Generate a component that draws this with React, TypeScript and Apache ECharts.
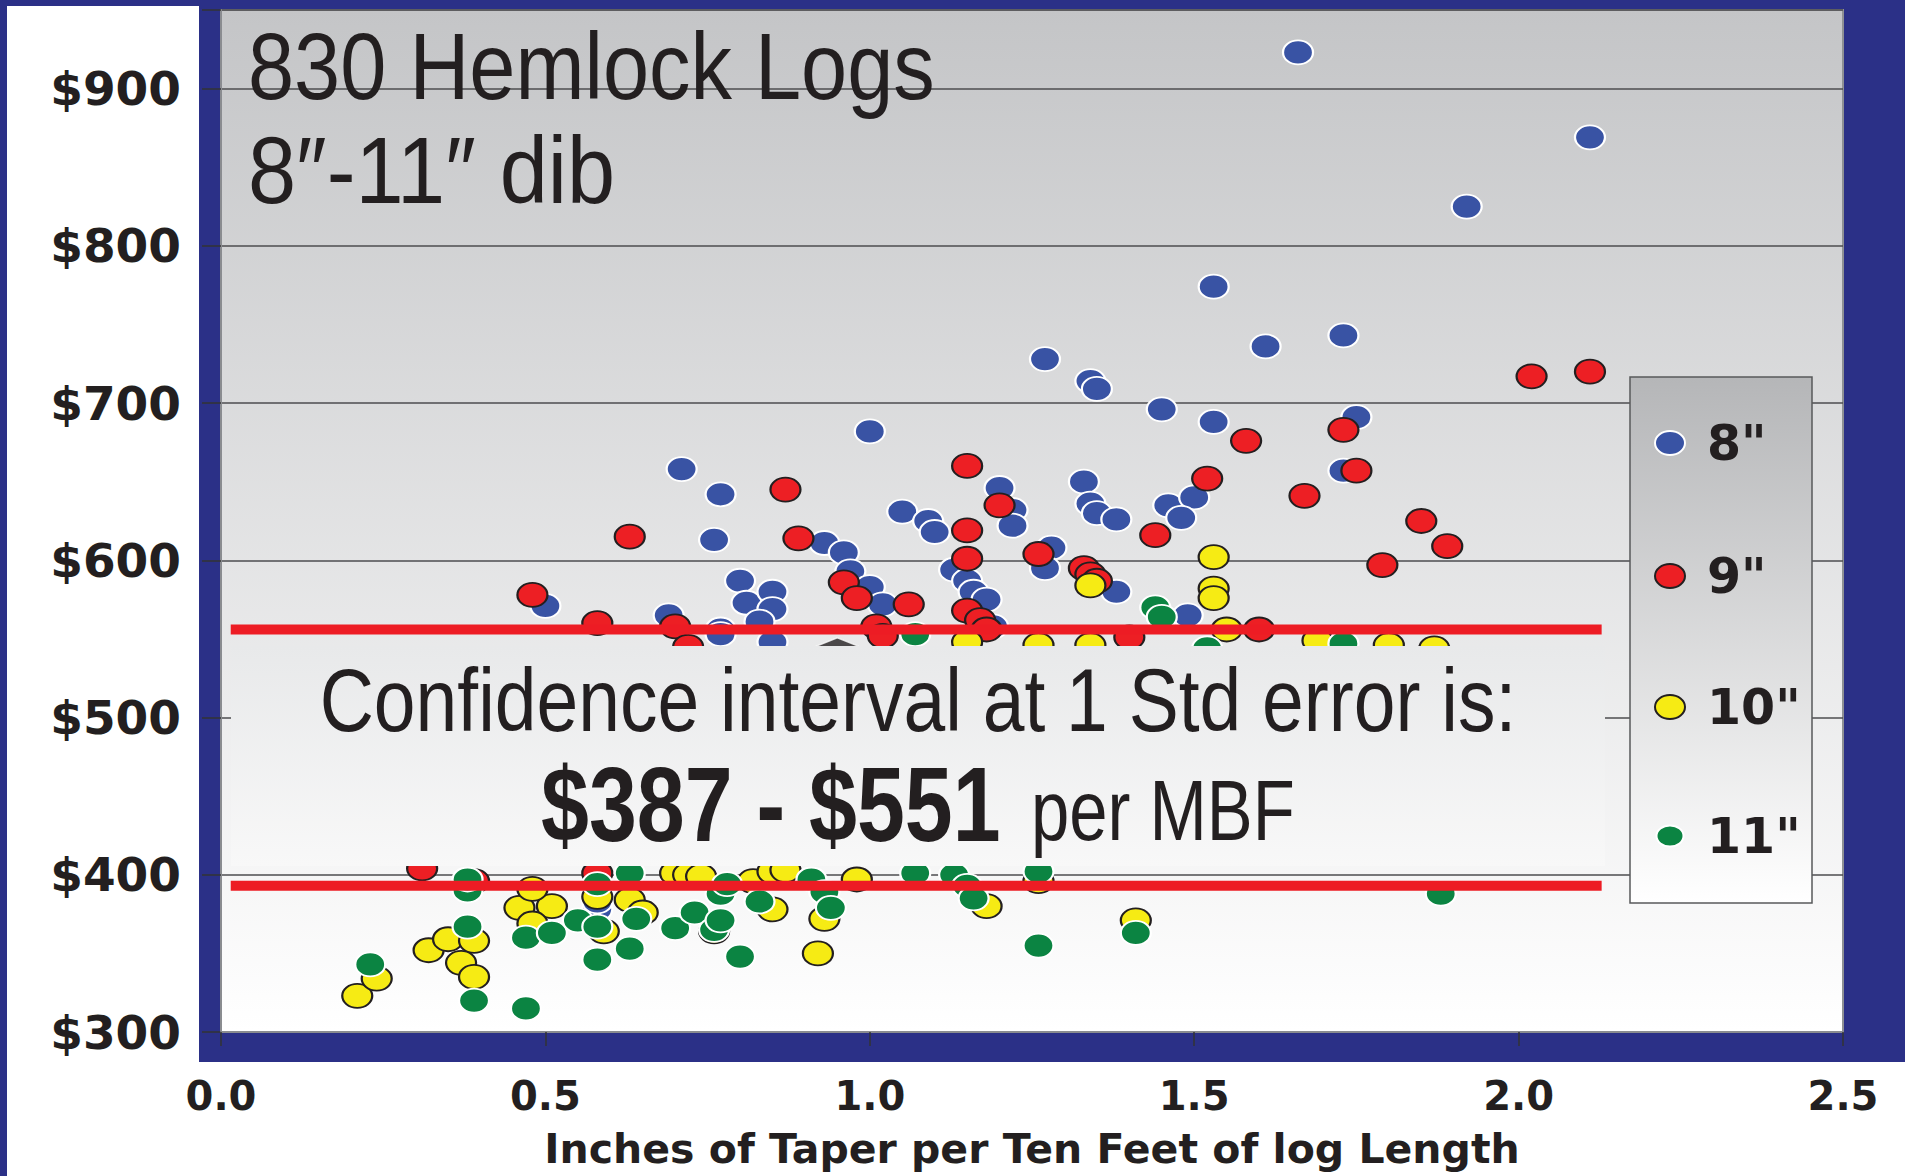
import { useEffect, useRef } from "react";
import * as echarts from "echarts";

// ---------- data ----------
const seriesNames = ['8"', '9"', '10"', '11"'];
const seriesColors = ["#3953A4", "#ED1F24", "#F6EB14", "#0B8442"];
const seriesBorders = ["#FFFFFF", "#231F20", "#231F20", "#FFFFFF"];

const dib8: number[][] = [
  [1.66, 923], [2.11, 869], [1.92, 825], [1.53, 774], [1.73, 743], [1.61, 736], [1.27, 728],
  [1.34, 714], [1.35, 709], [1.45, 696], [1.53, 688], [1.75, 691], [1.73, 657], [1.0, 682],
  [0.71, 658], [0.77, 642], [0.76, 613], [1.2, 646], [1.22, 632], [1.22, 622], [1.05, 631],
  [1.09, 625], [1.1, 618], [1.33, 650], [1.34, 636], [1.35, 630], [1.38, 626], [1.46, 635],
  [1.5, 640], [1.48, 627], [0.93, 611], [0.96, 605], [0.97, 593], [1.0, 583], [1.02, 572],
  [0.8, 587], [0.81, 573], [0.85, 580], [0.85, 569], [0.83, 561], [0.77, 556], [0.77, 553],
  [0.85, 548], [1.13, 594], [1.15, 587], [1.16, 580], [1.18, 575], [1.19, 558], [1.28, 608],
  [1.27, 595], [1.38, 580], [1.49, 565], [0.5, 571], [0.69, 565], [0.58, 378], [0.58, 383],
];

const dib9: number[][] = [
  [2.02, 717], [2.11, 720], [1.58, 676], [1.73, 683], [1.75, 657], [1.67, 641], [1.52, 652],
  [1.44, 616], [1.85, 625], [1.89, 609], [1.79, 597], [1.6, 556], [1.4, 551], [0.87, 645],
  [1.15, 660], [1.2, 635], [1.15, 619], [1.15, 601], [0.89, 614], [1.26, 604], [1.33, 595],
  [1.34, 591], [1.35, 587], [0.96, 586], [0.98, 576], [1.06, 572], [1.15, 568], [1.17, 562],
  [1.18, 556], [1.01, 558], [1.02, 552], [0.63, 615], [0.48, 578], [0.58, 560], [0.7, 558],
  [0.72, 545], [0.31, 404], [0.39, 396], [0.58, 401],
];

const dib10: number[][] = [
  [1.53, 602], [1.53, 582], [1.53, 576], [1.34, 584], [1.55, 556], [1.69, 549], [1.8, 546],
  [1.87, 544], [1.15, 548], [1.26, 546], [1.34, 546],
  [0.21, 323], [0.24, 334], [0.32, 352], [0.35, 359], [0.39, 358], [0.37, 344], [0.39, 335],
  [0.46, 379], [0.51, 380], [0.48, 391], [0.48, 369], [0.58, 386], [0.59, 364], [0.63, 384],
  [0.65, 376], [0.7, 401], [0.72, 400], [0.74, 399], [0.76, 364], [0.82, 396], [0.85, 378],
  [0.85, 402], [0.87, 403], [0.92, 350], [0.93, 372], [0.98, 397], [1.18, 380], [1.26, 396],
  [1.41, 371],
];

const dib11: number[][] = [
  [1.44, 570], [1.45, 564], [1.07, 553], [1.73, 547], [1.52, 544],
  [0.23, 343], [0.38, 367], [0.39, 320], [0.47, 315], [0.47, 360], [0.51, 363], [0.38, 390],
  [0.38, 397], [0.55, 371], [0.58, 394], [0.58, 367], [0.58, 346], [0.63, 353], [0.64, 372],
  [0.63, 401], [0.7, 366], [0.73, 376], [0.76, 365], [0.77, 371], [0.77, 388], [0.78, 394],
  [0.8, 348], [0.83, 383], [0.91, 397], [0.93, 389], [0.94, 379], [1.07, 401], [1.13, 400],
  [1.15, 393], [1.16, 385], [1.26, 355], [1.26, 402], [1.41, 363], [1.88, 388],
];

const meanMark: number[][] = [[0.95, 538]];

const ciBounds = [393, 556];
const ciSpan = [0.015, 2.128];

const xRange = [0, 2.5];
const xStep = 0.5;
const yRange = [300, 950];
const yStep = 100;

const titleLines = ["830 Hemlock Logs", "8″-11″ dib"];
const ciLine1 = "Confidence interval at 1 Std error is:";
const ciRange = "$387 - $551";
const ciUnit = "per MBF";
const xAxisName = "Inches of Taper per Ten Feet of log Length";

// ---------- chart ----------
const NAVY = "#2B3087";
const INK = "#231F20";
const ELLIPSE = "path://M0,50A50,50,0,1,1,100,50A50,50,0,1,1,0,50Z";

export default function App() {
  const ref = useRef<HTMLDivElement>(null);

  useEffect(() => {
    document.body.style.margin = "0";
    const chart = echarts.init(ref.current!, null, { renderer: "svg" });

    const allSeries = [dib8, dib9, dib10, dib11];
    const scatterSeries = allSeries.map((d, i) => ({
      type: "scatter",
      name: seriesNames[i],
      data: d,
      symbol: ELLIPSE,
      symbolSize: [30, 24],
      z: 3,
      itemStyle: { color: seriesColors[i], borderColor: seriesBorders[i], borderWidth: 2, opacity: 1 },
      emphasis: { disabled: true },
    }));

    const lineSeries = ciBounds.map((v) => ({
      type: "line",
      data: [[ciSpan[0], v], [ciSpan[1], v]],
      symbol: "none",
      z: 5,
      lineStyle: { color: "#ED1C24", width: 10, cap: "butt" },
      emphasis: { disabled: true },
    }));

    const legendRows = [443, 576, 707, 836];
    const legendGraphics: any[] = [];
    seriesNames.forEach((n, i) => {
      const small = i === 3;
      legendGraphics.push({
        type: "ellipse",
        z: 21,
        shape: { cx: 1670, cy: legendRows[i], rx: small ? 13.5 : 15, ry: small ? 10.5 : 12 },
        style: { fill: seriesColors[i], stroke: seriesBorders[i], lineWidth: 2 },
      });
      legendGraphics.push({
        type: "text",
        z: 21,
        x: 1707,
        y: legendRows[i],
        style: {
          text: n,
          fontFamily: "DejaVu Sans",
          fontWeight: "bold",
          fontSize: 49,
          fill: INK,
          align: "left",
          verticalAlign: "middle",
        },
      });
    });

    const shadow = { textShadowColor: "#B9BABC", textShadowOffsetX: 3, textShadowOffsetY: 3, textShadowBlur: 0 };

    const option: any = {
      animation: false,
      grid: { left: 221, top: 10, width: 1622, height: 1022, containLabel: false, outerBoundsMode: "none" },
      xAxis: {
        type: "value",
        z: 1,
        min: xRange[0],
        max: xRange[1],
        interval: xStep,
        name: xAxisName,
        nameLocation: "middle",
        nameGap: 117,
        nameTextStyle: {
          fontFamily: "DejaVu Sans",
          fontWeight: "bold",
          fontSize: 41,
          color: INK,
          verticalAlign: "middle",
        },
        axisLine: { show: true, lineStyle: { color: "#8A8C90", width: 2 } },
        axisTick: { show: true, length: 14, lineStyle: { color: "#333333", width: 1.5 } },
        splitLine: { show: false },
        axisLabel: {
          margin: 44,
          fontFamily: "DejaVu Sans",
          fontWeight: "bold",
          fontSize: 40,
          color: INK,
          formatter: (v: number) => v.toFixed(1),
        },
      },
      yAxis: {
        type: "value",
        min: yRange[0],
        max: yRange[1],
        interval: yStep,
        axisLine: { show: true, lineStyle: { color: "#8A8C90", width: 2 } },
        axisTick: { show: true, length: 19, lineStyle: { color: "#333333", width: 1.5 } },
        splitLine: { show: true, lineStyle: { color: "#4D4D4F", width: 1.5 } },
        axisLabel: {
          margin: 40,
          fontFamily: "DejaVu Sans",
          fontWeight: "bold",
          fontSize: 47,
          color: INK,
          formatter: (v: number) => (v % 100 === 0 ? "$" + v : ""),
        },
      },
      graphic: [
        // frame
        { type: "rect", z: -30, shape: { x: 0, y: 0, width: 1905, height: 1062 }, style: { fill: NAVY } },
        { type: "rect", z: -29, shape: { x: 7, y: 6, width: 192, height: 1170 }, style: { fill: "#FFFFFF" } },
        { type: "rect", z: -29, shape: { x: 7, y: 1062, width: 1909, height: 114 }, style: { fill: "#FFFFFF" } },
        { type: "rect", z: -29, shape: { x: 1905, y: 0, width: 11, height: 1176 }, style: { fill: "#FFFFFF" } },
        { type: "rect", z: -28, shape: { x: 0, y: 0, width: 7, height: 1176 }, style: { fill: NAVY } },
        // plot background
        {
          type: "rect",
          z: -20,
          shape: { x: 221, y: 10, width: 1622, height: 1022 },
          style: {
            fill: new echarts.graphic.LinearGradient(0, 0, 0, 1, [
              { offset: 0, color: "#C4C5C7" },
              { offset: 1, color: "#FFFFFF" },
            ]),
            stroke: "#8E9094",
            lineWidth: 2,
          },
        },
        // title
        {
          type: "text",
          z: 20,
          x: 248,
          y: 66,
          scaleX: 0.873,
          style: { text: titleLines[0], fontFamily: "Liberation Sans", fontSize: 95, fill: INK, align: "left", verticalAlign: "middle" },
        },
        {
          type: "text",
          z: 20,
          x: 248,
          y: 170,
          scaleX: 0.91,
          style: { text: titleLines[1], fontFamily: "Liberation Sans", fontSize: 95, fill: INK, align: "left", verticalAlign: "middle" },
        },
        // confidence box
        {
          type: "rect",
          z: 10,
          shape: { x: 231, y: 646, width: 1374, height: 220 },
          style: {
            fill: new echarts.graphic.LinearGradient(0, 0, 0, 1, [
              { offset: 0, color: "#E8E9EA" },
              { offset: 1, color: "#F8F8F8" },
            ]),
          },
        },
        {
          type: "text",
          z: 12,
          x: 918,
          y: 700,
          scaleX: 0.843,
          style: { text: ciLine1, fontFamily: "Liberation Sans", fontSize: 89, fill: INK, align: "center", verticalAlign: "middle", ...shadow },
        },
        {
          type: "text",
          z: 12,
          x: 541,
          y: 804,
          scaleX: 0.82,
          style: { text: ciRange, fontFamily: "Liberation Sans", fontWeight: "bold", fontSize: 105, fill: INK, align: "left", verticalAlign: "middle", ...shadow },
        },
        {
          type: "text",
          z: 12,
          x: 1031,
          y: 811,
          scaleX: 0.8,
          style: { text: ciUnit, fontFamily: "Liberation Sans", fontSize: 86, fill: INK, align: "left", verticalAlign: "middle", ...shadow },
        },
        // legend box
        {
          type: "rect",
          z: 20,
          shape: { x: 1630, y: 377, width: 182, height: 526 },
          style: {
            fill: new echarts.graphic.LinearGradient(0, 0, 0, 1, [
              { offset: 0, color: "#B5B6B8" },
              { offset: 1, color: "#FFFFFF" },
            ]),
            stroke: "#58595B",
            lineWidth: 1.5,
          },
        },
        ...legendGraphics,
      ],
      series: [
        ...scatterSeries,
        {
          type: "scatter",
          name: "mean",
          data: meanMark,
          symbol: "diamond",
          symbolSize: [100, 40],
          z: 3,
          itemStyle: { color: INK, borderColor: "#FFFFFF", borderWidth: 1.5 },
          emphasis: { disabled: true },
        },
        ...lineSeries,
      ],
    };

    chart.setOption(option);
    return () => chart.dispose();
  }, []);

  return <div ref={ref} style={{ width: 1916, height: 1176 }} />;
}
